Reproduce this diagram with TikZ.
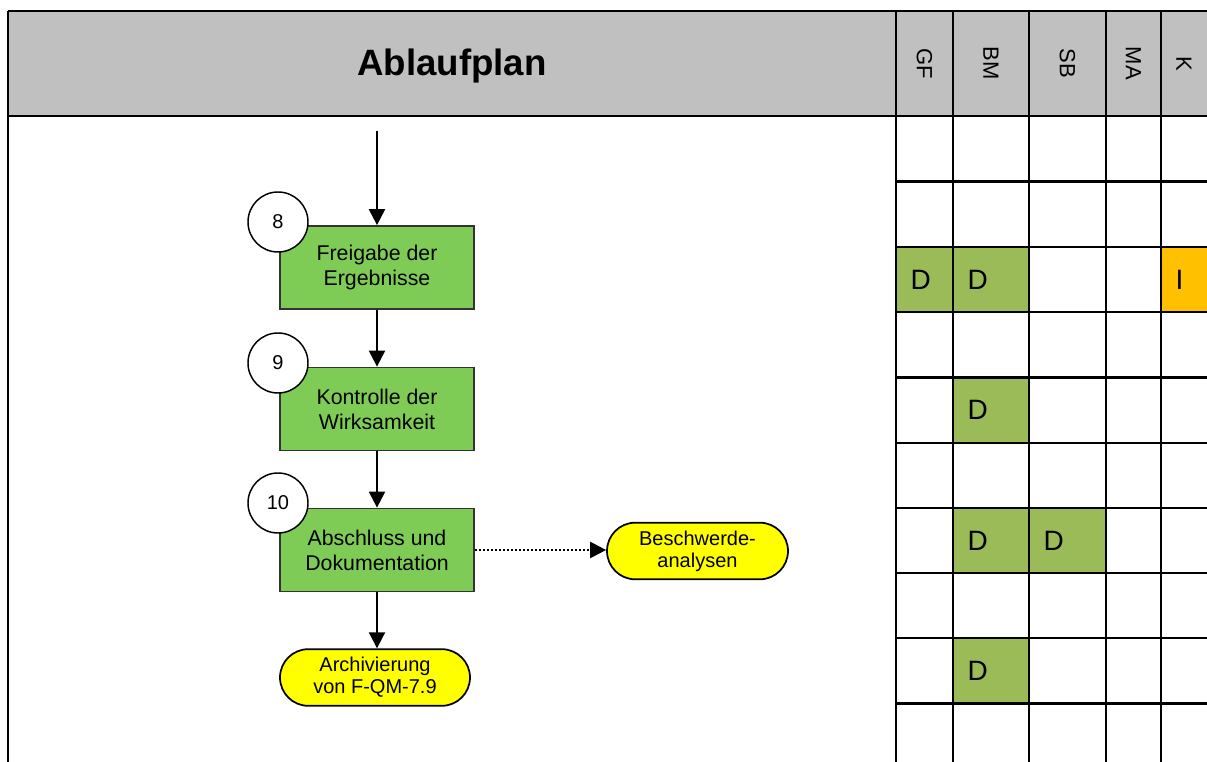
\documentclass[tikz,border=0pt]{standalone}
\usepackage{fontspec}
\setmainfont{Liberation Sans}
\usetikzlibrary{arrows.meta,shapes.misc}
\definecolor{hdr}{RGB}{192,192,192}
\definecolor{boxgreen}{RGB}{126,204,85}
\definecolor{cellgreen}{RGB}{155,187,89}
\definecolor{cellorange}{RGB}{255,192,0}
\definecolor{pillyellow}{RGB}{255,255,0}
\begin{document}
\begin{tikzpicture}[x=0.75pt,y=-0.75pt,
  stepbox/.style={draw=black!80, line width=1.3pt, fill=boxgreen, minimum width=145.5pt, minimum height=62.25pt, inner sep=0pt, align=center, font=\fontsize{16}{18.75}\selectfont},
  pill/.style={rounded rectangle, draw=black, line width=1.3pt, fill=pillyellow, minimum height=42.5pt, inner sep=0pt, align=center, font=\fontsize{15}{16.5}\selectfont},
  numcirc/.style={circle, draw=black, line width=1.1pt, fill=white, minimum size=45pt, inner sep=0pt, font=\fontsize{15}{18}\selectfont},
  flow/.style={line width=1.6pt, -{Triangle[length=12pt,width=12pt]}},
  grid/.style={line width=2.2pt, black},
  hdrtext/.style={rotate=-90, font=\fontsize{16.5}{18}\selectfont},
  cellmark/.style={anchor=west, font=\fontsize{21}{24}\selectfont}]
\useasboundingbox (0,0) rectangle (1207,762);
\clip (0,0) rectangle (1207,762);
% header band
\fill[hdr] (8,11) rectangle (1212,116);
% filled cells
\fill[cellgreen] (896,247) rectangle (1029,312);
\fill[cellorange] (1161,247) rectangle (1212,312);
\fill[cellgreen] (953,377.5) rectangle (1029,443);
\fill[cellgreen] (953,508) rectangle (1106,573);
\fill[cellgreen] (953,638) rectangle (1029,703.5);
% frame and grid
\draw[grid] (8,11) -- (1212,11);
\draw[grid] (8,11) -- (8,770);
\draw[grid] (8,116) -- (1212,116);
\foreach \gx in {896,953,1029,1106,1161} \draw[grid] (\gx,11) -- (\gx,770);
\foreach \gy in {181.5,247,312,377.5,443,508,573,638,703.5} \draw[grid] (896,\gy) -- (1212,\gy);
% header texts
\node[font=\fontsize{27.5}{30}\selectfont\bfseries] (title) at (452,66) {Ablaufplan};
\node[hdrtext] (hGF) at (924.5,63.5) {GF};
\node[hdrtext] (hBM) at (991,63.5) {BM};
\node[hdrtext] (hSB) at (1067.5,63.5) {SB};
\node[hdrtext] (hMA) at (1133.5,63.5) {MA};
\node[hdrtext] (hK) at (1184,63.5) {K};
% cell marks
\node[cellmark] (m1) at (906,279.5) {D};
\node[cellmark] (m2) at (963,279.5) {D};
\node[cellmark] (m3) at (1171,279.5) {I};
\node[cellmark] (m4) at (963,410) {D};
\node[cellmark] (m5) at (963,540.5) {D};
\node[cellmark] (m6) at (1039,540.5) {D};
\node[cellmark] (m7) at (963,671) {D};
% flow nodes
\coordinate (start) at (377,131);
\node[stepbox] (b8) at (377,267.5) {Freigabe der\\Ergebnisse};
\node[stepbox] (b9) at (377,409) {Kontrolle der\\Wirksamkeit};
\node[stepbox] (b10) at (377,550) {Abschluss und\\Dokumentation};
\node[pill, minimum width=142.5pt] (arch) at (375,677.5) {Archivierung\\von F-QM-7.9};
\node[pill, minimum width=135.75pt] (besch) at (697.5,551) {Beschwerde-\\analysen};
\node[numcirc] (c8) at (278,222) {8};
\node[numcirc] (c9) at (278,363) {9};
\node[numcirc] (c10) at (278,503) {10};
% connectors
\draw[flow] (start) -- (b8.north);
\draw[flow] (b8.south) -- (b9.north);
\draw[flow] (b9.south) -- (b10.north);
\draw[flow] (b10.south) -- (b10.south |- arch.north);
\draw[flow, dash pattern=on 1.6pt off 1.4pt] (b10.east) -- (b10.east -| besch.west);
\end{tikzpicture}
\end{document}
